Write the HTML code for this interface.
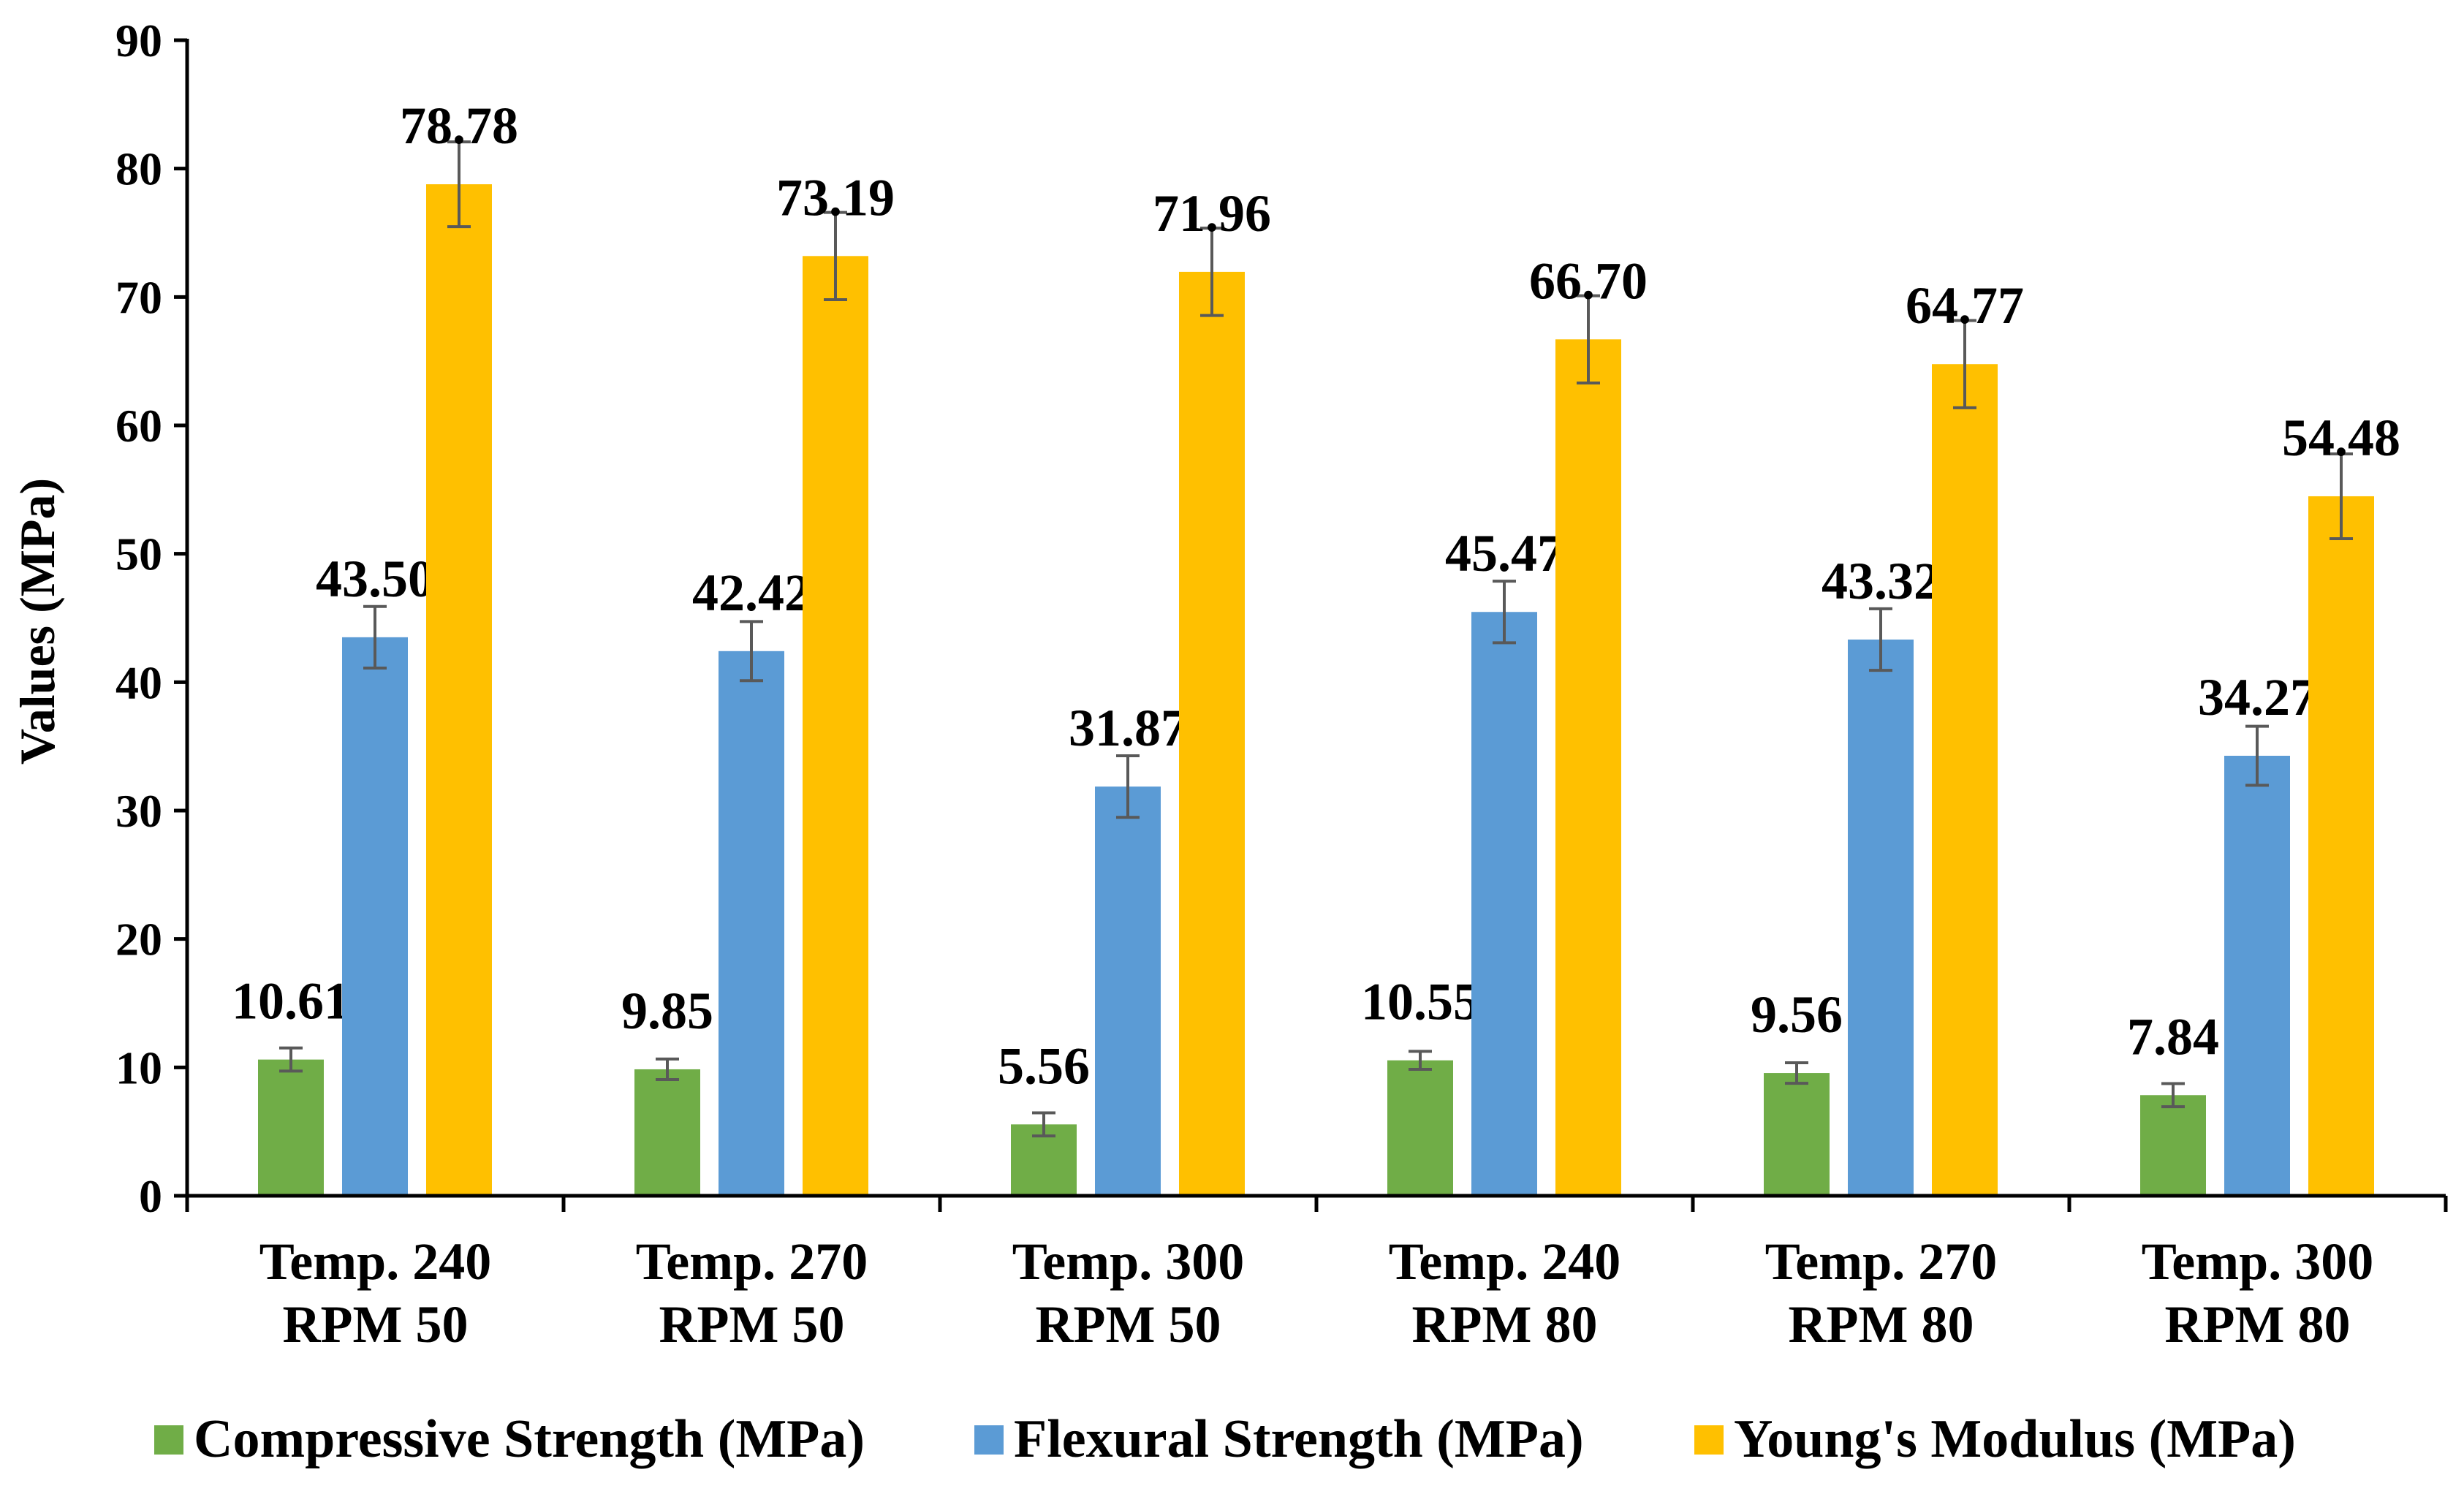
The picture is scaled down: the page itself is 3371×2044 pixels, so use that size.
<!DOCTYPE html>
<html><head><meta charset="utf-8"><style>
html,body{margin:0;padding:0;background:#fff}
svg{display:block}
text{font-family:"Liberation Serif",serif;font-weight:bold;fill:#000}
</style></head><body>
<svg id="chart" width="3371" height="2044" viewBox="0 0 3371 2044">
<g id="plot"></g>
</svg>
<script>
const categories = [["Temp. 240","RPM 50"],["Temp. 270","RPM 50"],["Temp. 300","RPM 50"],["Temp. 240","RPM 80"],["Temp. 270","RPM 80"],["Temp. 300","RPM 80"]];
const seriesNames = ["Compressive Strength (MPa)","Flexural Strength (MPa)","Young's Modulus (MPa)"];
const compressive = [10.61, 9.85, 5.56, 10.55, 9.56, 7.84];
const flexural = [43.50, 42.42, 31.87, 45.47, 43.32, 34.27];
const youngs = [78.78, 73.19, 71.96, 66.70, 64.77, 54.48];
const compressiveErr = [0.9, 0.8, 0.9, 0.7, 0.8, 0.9];
const flexuralErr = [2.4, 2.3, 2.4, 2.4, 2.4, 2.3];
const youngsErr = [3.3, 3.4, 3.4, 3.4, 3.4, 3.3];
const yTicks = [0,10,20,30,40,50,60,70,80,90];

const colors = ["#70AD47","#5B9BD5","#FFC000"];
const values = [compressive, flexural, youngs];
const errs = [compressiveErr, flexuralErr, youngsErr];
const X0 = 256, X1 = 3346, Y0 = 1636, Y90 = 55;
const yMax = 90;
function yScale(v){ return Y0 - (v / yMax) * (Y0 - Y90); }
const groupW = (X1 - X0) / categories.length;
function xGroup(i){ return X0 + i * groupW; }
const barW = 90, barStep = 115, barOff = 97;
function xBar(i, s){ return xGroup(i) + barOff + s * barStep; }

const NS = "http://www.w3.org/2000/svg";
const g = document.getElementById("plot");
function mk(tag, attrs, parent){
  const e = document.createElementNS(NS, tag);
  for (const k in attrs) e.setAttribute(k, attrs[k]);
  (parent || g).appendChild(e);
  return e;
}

values.forEach((arr, s) => {
  arr.forEach((v, i) => {
    const x = xBar(i, s), y = yScale(v);
    const r = mk("rect", {x: x, y: y, width: barW, height: Y0 - y, fill: colors[s]});
    
    
    const cx = x + barW / 2;
    const yt = yScale(v + errs[s][i]), yb = yScale(v - errs[s][i]);
    const eg = mk("g", {stroke: "#595959", "stroke-width": 4});
    
    
    mk("line", {x1: cx, y1: yt, x2: cx, y2: yb}, eg);
    mk("line", {x1: cx - 16, y1: yt, x2: cx + 16, y2: yt}, eg);
    mk("line", {x1: cx - 16, y1: yb, x2: cx + 16, y2: yb}, eg);
    const t = mk("text", {x: cx, y: y - 56, "text-anchor": "middle", "font-size": 72});
    t.textContent = v.toFixed(2);
    
    
  });
});

const ax = mk("g", {stroke: "#000", "stroke-width": 5});


mk("line", {x1: X0, y1: Y90 - 2, x2: X0, y2: Y0 + 2}, ax);
mk("line", {x1: X0 - 18, y1: Y0, x2: X1, y2: Y0}, ax);
yTicks.forEach(v => {
  const y = yScale(v);
  mk("line", {x1: X0 - 18, y1: y, x2: X0, y2: y}, ax);
  const t = mk("text", {x: X0 - 34, y: y + 22, "text-anchor": "end", "font-size": 64});
  t.textContent = v;
  
  
});
for (let i = 0; i <= categories.length; i++) {
  const x = xGroup(i);
  mk("line", {x1: x, y1: Y0, x2: x, y2: Y0 + 22}, ax);
}
categories.forEach((c, i) => {
  const cx = xGroup(i) + groupW / 2;
  const t = mk("text", {x: cx, y: 1750, "text-anchor": "middle", "font-size": 72});
  t.textContent = c[0];
  
  
  const t2 = mk("text", {x: cx, y: 1836, "text-anchor": "middle", "font-size": 72});
  t2.textContent = c[1];
  
  
});

const yt = mk("text", {x: 0, y: 0, "text-anchor": "middle", "font-size": 68, transform: "translate(74,850) rotate(-90)"});
yt.textContent = "Values (MPa)";



const legX = [211, 1333, 2318];
seriesNames.forEach((n, s) => {
  const lg = mk("g", {});
  
  
  mk("rect", {x: legX[s], y: 1950, width: 40, height: 40, fill: colors[s]}, lg);
  const t = mk("text", {x: legX[s] + 54, y: 1993, "font-size": 74}, lg);
  t.textContent = n;
});
</script>
</body></html>
